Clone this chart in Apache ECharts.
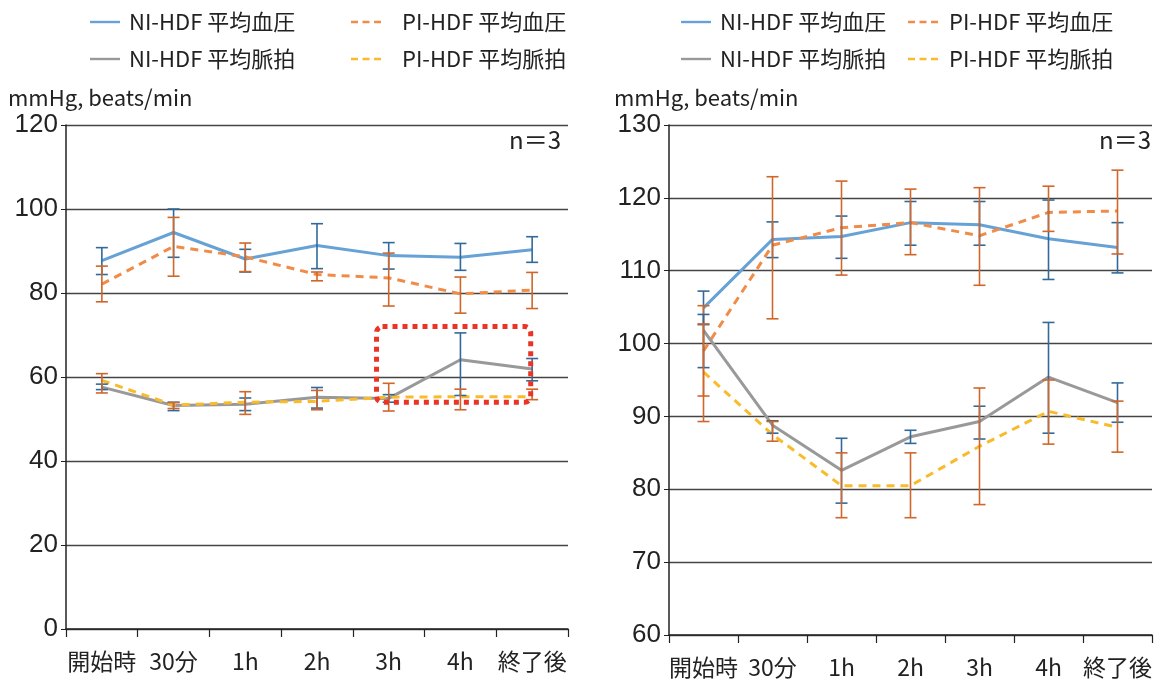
<!DOCTYPE html>
<html><head><meta charset="utf-8">
<script src="https://cdn.jsdelivr.net/npm/echarts@6/dist/echarts.min.js"></script>
<style>html,body{margin:0;padding:0;background:#fff}#c{width:1159px;height:682px}</style>
</head><body><div id="c"></div>
<script>
const categories = ['開始時', '30分', '1h', '2h', '3h', '4h', '終了後'];
const seriesNames = ['NI-HDF 平均血圧', 'PI-HDF 平均血圧', 'NI-HDF 平均脈拍', 'PI-HDF 平均脈拍'];
const leftTicks = { min: 0, max: 120, interval: 20 };
const rightTicks = { min: 60, max: 130, interval: 10 };
const unitLabel = 'mmHg, beats/min';
const nLabel = 'n＝3';

// left chart
const leftNiBp = [87.7, 94.4, 88.1, 91.3, 88.9, 88.5, 90.3];
const leftNiBpErr = [[84.4, 90.8], [88.5, 100.0], [85.0, 90.4], [85.8, 96.5], [85.7, 92.0], [85.4, 91.8], [87.3, 93.4]];
const leftPiBp = [82.1, 91.1, 88.6, 84.4, 83.6, 79.8, 80.7];
const leftPiBpErr = [[77.9, 86.4], [84.0, 98.0], [85.1, 91.9], [82.9, 85.0], [76.9, 89.5], [75.2, 83.8], [76.3, 84.9]];
const leftNiHr = [57.6, 53.2, 53.5, 55.2, 54.9, 64.1, 61.9];
const leftNiHrErr = [[57.0, 58.3], [52.0, 54.0], [52.0, 55.0], [52.6, 57.5], [54.0, 55.8], [55.6, 70.5], [59.1, 64.4]];
const leftPiHr = [59.2, 53.3, 54.0, 54.2, 55.2, 55.3, 55.3];
const leftPiHrErr = [[56.2, 60.8], [52.5, 53.9], [51.1, 56.5], [52.2, 56.8], [51.9, 58.5], [52.2, 57.1], [54.6, 57.1]];
const highlightBox = [[4, 72, 6, 54]];

// right chart
const rightNiBp = [104.9, 114.3, 114.7, 116.6, 116.3, 114.4, 113.2];
const rightNiBpErr = [[102.6, 107.2], [111.8, 116.7], [111.7, 117.5], [113.5, 119.5], [113.5, 119.5], [108.8, 119.7], [109.7, 116.6]];
const rightPiBp = [99.0, 113.5, 115.9, 116.6, 114.8, 118.0, 118.2];
const rightPiBpErr = [[92.8, 105.2], [103.4, 122.9], [109.4, 122.3], [112.2, 121.2], [108.0, 121.4], [115.4, 121.6], [112.3, 123.8]];
const rightNiHr = [101.8, 88.8, 82.6, 87.2, 89.3, 95.4, 91.9];
const rightNiHrErr = [[96.7, 104.0], [87.7, 89.4], [78.1, 87.0], [86.3, 88.1], [86.9, 91.4], [87.7, 102.9], [89.2, 94.6]];
const rightPiHr = [96.1, 87.5, 80.5, 80.5, 85.9, 90.7, 88.5];
const rightPiHrErr = [[89.3, 102.7], [86.6, 89.3], [76.1, 85.0], [76.1, 85.0], [77.9, 93.9], [86.2, 95.0], [85.1, 92.1]];

const FONT = "'Noto Sans CJK JP', 'Noto Sans', sans-serif";
const NUMFONT = "'Liberation Sans', Arial, sans-serif";
const lineColors = ['#67a2d6', '#f08c48', '#999999', '#f8bb2c'];
const lineTypes = ['solid', [8, 6], 'solid', [8, 6]];
const errColors = ['#33699a', '#d0662a', '#33699a', '#d0662a'];
const legendIcons = [
  'path://M0,0h30v2.4h-30z',
  'path://M0,0h7v2.4h-7z M11.5,0h7v2.4h-7z M23,0h7v2.4h-7z',
  'path://M0,0h30v2.4h-30z',
  'path://M0,0h7v2.4h-7z M11.5,0h7v2.4h-7z M23,0h7v2.4h-7z'
];

function lineSeries(idx, data, k) {
  return {
    type: 'line', name: seriesNames[k], xAxisIndex: idx, yAxisIndex: idx, data: data,
    symbol: 'none', z: 3,
    lineStyle: { color: lineColors[k], width: 3, type: lineTypes[k] },
    itemStyle: { color: lineColors[k] }
  };
}
function errSeries(idx, errs, k, cap) {
  return {
    type: 'custom', xAxisIndex: idx, yAxisIndex: idx, z: 4, silent: true,
    data: errs.map((e, i) => [i, e[0], e[1]]),
    encode: { x: 0, y: [1, 2] },
    renderItem: function (params, api) {
      const x = api.value(0);
      const lo = api.coord([x, api.value(1)]);
      const hi = api.coord([x, api.value(2)]);
      const st = { stroke: errColors[k], lineWidth: 1.6 };
      return {
        type: 'group', children: [
          { type: 'line', shape: { x1: lo[0], y1: lo[1], x2: hi[0], y2: hi[1] }, style: st },
          { type: 'line', shape: { x1: hi[0] - cap, y1: hi[1], x2: hi[0] + cap, y2: hi[1] }, style: st },
          { type: 'line', shape: { x1: lo[0] - cap, y1: lo[1], x2: lo[0] + cap, y2: lo[1] }, style: st }
        ]
      };
    }
  };
}
function legendItem(k, left, top, padLeft) {
  return {
    data: [{ name: seriesNames[k], icon: legendIcons[k] }], left: left, top: top,
    itemWidth: 30, itemHeight: 2.4, selectedMode: false,
    textStyle: { fontSize: 22, color: '#222', fontFamily: FONT, padding: [0, 0, 0, padLeft] }
  };
}
function xAx(gi) {
  return {
    type: 'category', gridIndex: gi, data: categories, boundaryGap: true,
    axisLine: { show: true, lineStyle: { color: '#222', width: 1.5 } },
    axisTick: { show: true, length: 8, lineStyle: { color: '#222', width: 1.2 } },
    axisLabel: { fontSize: 23, color: '#222', margin: 21, fontFamily: FONT, interval: 0 },
    splitLine: { show: false }
  };
}
function yAx(gi, t) {
  return {
    type: 'value', gridIndex: gi, min: t.min, max: t.max, interval: t.interval,
    axisLine: { show: true, lineStyle: { color: '#222', width: 1.5 } },
    axisTick: { show: true, length: 5, lineStyle: { color: '#222' } },
    axisLabel: { fontSize: 26, color: '#222', margin: 8, fontFamily: NUMFONT },
    splitLine: { show: true, lineStyle: { color: '#444', width: 1.3 } }
  };
}

const chart = echarts.init(document.getElementById('c'), null, { renderer: 'canvas' });
const option = {
  animation: false,
  backgroundColor: '#fff',
  textStyle: { fontFamily: FONT },
  grid: [
    { left: 66, right: 591, top: 125, bottom: 53 },
    { left: 669, right: 7, top: 125, bottom: 47 }
  ],
  xAxis: [xAx(0), xAx(1)],
  yAxis: [yAx(0, leftTicks), yAx(1, rightTicks)],
  legend: [
    legendItem(0, 85, 6, 4), legendItem(1, 346, 6, 16),
    legendItem(2, 85, 43, 4), legendItem(3, 346, 43, 16),
    legendItem(0, 676, 6, 4), legendItem(1, 903, 6, 6),
    legendItem(2, 676, 43, 4), legendItem(3, 903, 43, 6)
  ],
  graphic: [
    { type: 'text', left: 8, top: 87, style: { text: unitLabel, fontSize: 22, fill: '#222', fontFamily: FONT } },
    { type: 'text', left: 614, top: 87, style: { text: unitLabel, fontSize: 22, fill: '#222', fontFamily: FONT } },
    { type: 'text', right: 598, top: 128, style: { text: nLabel, fontSize: 24, fill: '#222', fontFamily: FONT } },
    { type: 'text', right: 8, top: 128, style: { text: nLabel, fontSize: 24, fill: '#222', fontFamily: FONT } }
  ],
  series: [
    lineSeries(0, leftNiBp, 0), lineSeries(0, leftPiBp, 1), lineSeries(0, leftNiHr, 2), lineSeries(0, leftPiHr, 3),
    errSeries(0, leftNiBpErr, 0, 6), errSeries(0, leftPiBpErr, 1, 6), errSeries(0, leftNiHrErr, 2, 6), errSeries(0, leftPiHrErr, 3, 6),
    lineSeries(1, rightNiBp, 0), lineSeries(1, rightPiBp, 1), lineSeries(1, rightNiHr, 2), lineSeries(1, rightPiHr, 3),
    errSeries(1, rightNiBpErr, 0, 6), errSeries(1, rightPiBpErr, 1, 6), errSeries(1, rightNiHrErr, 2, 6), errSeries(1, rightPiHrErr, 3, 6),
    {
      type: 'custom', xAxisIndex: 0, yAxisIndex: 0, z: 6, silent: true,
      data: highlightBox,
      encode: { x: [0, 2], y: [1, 3] },
      renderItem: function (params, api) {
        const a = api.coord([api.value(0), api.value(1)]);
        const b = api.coord([api.value(2), api.value(3)]);
        const band = api.size([1, 0])[0];
        const x1 = a[0] - 0.17 * band;
        const x2 = b[0] - 0.02 * band;
        return {
          type: 'rect',
          shape: { x: x1, y: a[1], width: x2 - x1, height: b[1] - a[1], r: 6 },
          style: { fill: 'none', stroke: '#ea3426', lineWidth: 5, lineDash: [5, 5] }
        };
      }
    }
  ]
};
chart.setOption(option);
</script></body></html>
